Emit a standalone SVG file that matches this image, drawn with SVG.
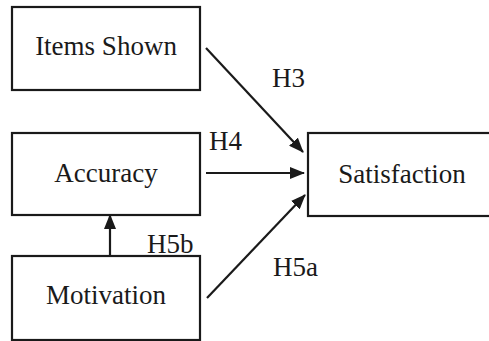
<svg xmlns="http://www.w3.org/2000/svg" width="489" height="341" viewBox="0 0 489 341">
<style>
.box{fill:#fff;stroke:#1a1a1a;stroke-width:2.2}
.t{font-family:"Liberation Serif","Times New Roman",serif;font-size:27px;fill:#1a1a1a}
.c{text-anchor:middle}
.e{stroke:#1a1a1a;stroke-width:2.2;fill:none;marker-end:url(#ah)}
</style>
<defs>
<marker id="ah" markerWidth="15" markerHeight="12" refX="14" refY="6" orient="auto" markerUnits="userSpaceOnUse">
<path d="M0,0 L15,6 L0,12 Z" fill="#1a1a1a"/>
</marker>
</defs>
<rect width="489" height="341" fill="#fff"/>
<g id="items-shown">
<rect class="box" x="12" y="7" width="188" height="83"/>
<text class="t c" x="106" y="55">Items Shown</text>
</g>
<g id="accuracy">
<rect class="box" x="12" y="133" width="188" height="82"/>
<text class="t c" x="106" y="182">Accuracy</text>
</g>
<g id="motivation">
<rect class="box" x="12" y="256" width="188" height="84"/>
<text class="t c" x="106" y="304">Motivation</text>
</g>
<g id="satisfaction">
<rect class="box" x="308" y="133" width="190" height="83"/>
<text class="t c" x="402" y="183">Satisfaction</text>
</g>
<g id="connectors">
<line class="e" x1="206" y1="48" x2="303" y2="152"/>
<line class="e" x1="206" y1="173" x2="304" y2="173"/>
<line class="e" x1="207" y1="298" x2="305" y2="195"/>
<line class="e" x1="110" y1="256" x2="110" y2="215"/>
</g>
<g id="labels">
<text class="t" x="272" y="87">H3</text>
<text class="t" x="209" y="150">H4</text>
<text class="t" x="147" y="253">H5b</text>
<text class="t" x="273" y="276">H5a</text>
</g>
</svg>
